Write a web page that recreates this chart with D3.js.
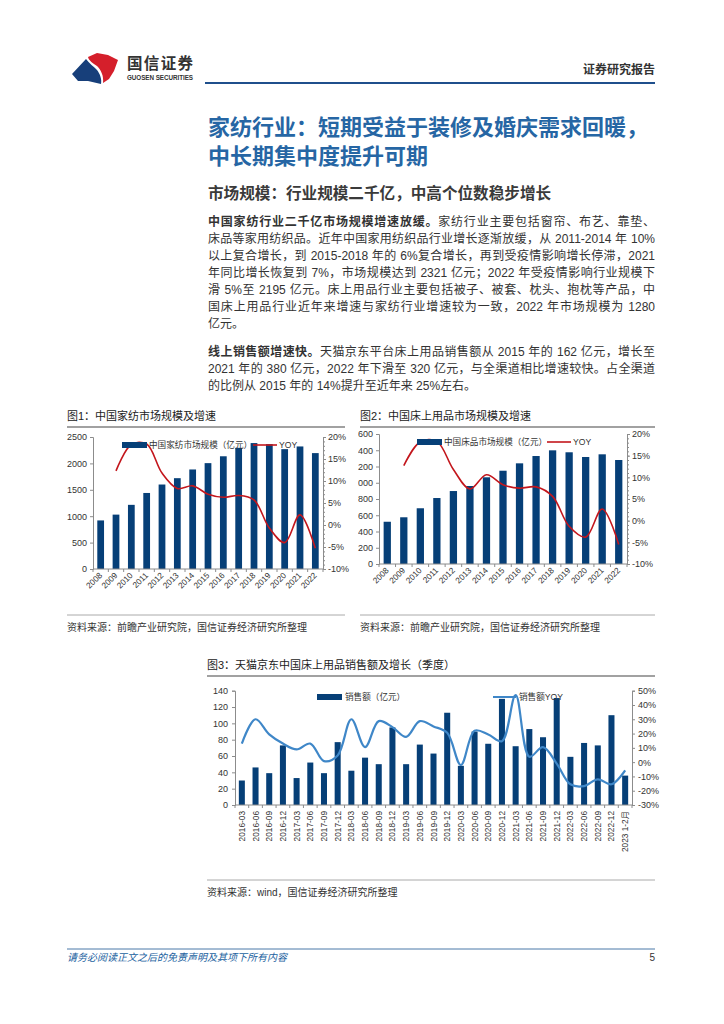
<!DOCTYPE html>
<html>
<head>
<meta charset="utf-8">
<script src="https://cdn.jsdelivr.net/npm/d3@7"></script>
<style>
  body { margin: 0; background: #fff; }
  #page { position: relative; width: 724px; height: 1024px; overflow: hidden;
          font-family: "Liberation Sans", "Noto Sans CJK SC", sans-serif; color: #333; }
  #page svg { position: absolute; left: 0; top: 0; }
  .title { position: absolute; left: 208px; top: 114px; font-size: 22px; line-height: 28.5px;
           font-weight: bold; color: #2666a4; white-space: nowrap; }
  .subtitle { position: absolute; left: 208px; top: 185px; font-size: 15.6px; line-height: 18px;
              font-weight: bold; color: #3a3a3a; white-space: nowrap; }
  .para { position: absolute; left: 208px; width: 447px; font-size: 12px; line-height: 17px; color: #333; }
  .para div { text-align: justify; text-align-last: justify; }
  .para div.last { text-align-last: left; }
</style>
</head>
<body>
<div id="page">
  <div class="title">家纺行业：短期受益于装修及婚庆需求回暖，<br>中长期集中度提升可期</div>
  <div class="subtitle">市场规模：行业规模二千亿，中高个位数稳步增长</div>
  <div class="para" style="top:213.5px">
    <div><b>中国家纺行业二千亿市场规模增速放缓。</b>家纺行业主要包括窗帘、布艺、靠垫、</div>
    <div>床品等家用纺织品。近年中国家用纺织品行业增长逐渐放缓，从 2011-2014 年 10%</div>
    <div>以上复合增长，到 2015-2018 年的 6%复合增长，再到受疫情影响增长停滞，2021</div>
    <div>年同比增长恢复到 7%，市场规模达到 2321 亿元；2022 年受疫情影响行业规模下</div>
    <div>滑 5%至 2195 亿元。床上用品行业主要包括被子、被套、枕头、抱枕等产品，中</div>
    <div>国床上用品行业近年来增速与家纺行业增速较为一致，2022 年市场规模为 1280</div>
    <div class="last">亿元。</div>
  </div>
  <div class="para" style="top:343.5px">
    <div><b>线上销售额增速快。</b>天猫京东平台床上用品销售额从 2015 年的 162 亿元，增长至</div>
    <div>2021 年的 380 亿元，2022 年下滑至 320 亿元，与全渠道相比增速较快。占全渠道</div>
    <div class="last">的比例从 2015 年的 14%提升至近年来 25%左右。</div>
  </div>
</div>
<script>
// 图1 / 图2 年度数据
const years = ['2008', '2009', '2010', '2011', '2012', '2013', '2014', '2015',
  '2016', '2017', '2018', '2019', '2020', '2021', '2022'];
const homeTextileSize = [920, 1030, 1215, 1440, 1600, 1720, 1885, 2005, 2135, 2295, 2385, 2365, 2270, 2321, 2195];
const homeTextileYoy = [null, 12.3, 18.3, 18.4, 11.8, 8.3, 8.9, 7.0, 6.3, 6.7, 5.7, -0.7, -4.0, 2.3, -5.3];
const beddingSize = [520, 575, 686, 812, 898, 960, 1067, 1148, 1239, 1329, 1399, 1375, 1317, 1350, 1280];
const beddingYoy = [null, 12.7, 18.2, 18.3, 11.8, 7.3, 10.6, 8.3, 7.5, 7.8, 5.6, -1.3, -3.8, 2.7, -5.5];

// 图3 季度数据
const quarters = ['2016-03', '2016-06', '2016-09', '2016-12', '2017-03', '2017-06', '2017-09', '2017-12',
  '2018-03', '2018-06', '2018-09', '2018-12', '2019-03', '2019-06', '2019-09', '2019-12',
  '2020-03', '2020-06', '2020-09', '2020-12', '2021-03', '2021-06', '2021-09', '2021-12',
  '2022-03', '2022-06', '2022-09', '2022-12', '2023 1-2月'];
const onlineSales = [30, 46, 39, 73, 33, 52, 39, 77, 42, 58, 50, 95, 50, 74, 63, 113,
  48, 90, 75, 130, 72, 93, 83, 131, 59, 76, 73, 110, 36];
const onlineYoy = [13, 30, 19.4, 13, 8.9, 13, 0.7, 4.7, 30, 10.5, 28.7, 24.5, 17.7, 28.7, 25, 20.5,
  -2, 22, 19.4, 14.7, 47, 3.8, 10.5, -1, -15.5, -16.8, -12, -15.5, -5.8];

const barColor = '#063f77';
const axisColor = '#8c8c8c';
const pctFmt = (d) => d + '%';
const numFmt = (d) => String(d);

const svg = d3.select('#page').append('svg')
  .attr('width', 724).attr('height', 1024);

drawHeader();
drawFooter();

drawAnnualChart({
  title: '图1：中国家纺市场规模及增速',
  source: '资料来源：前瞻产业研究院，国信证券经济研究所整理',
  frame: [67, 345], titleY: 416, sourceLineY: 615,
  left: 93, right: 323, top: 437, bottom: 569,
  yMax: 2500, yStep: 500,
  sizes: homeTextileSize, yoy: homeTextileYoy,
  legendName: '中国家纺市场规模（亿元）',
  legend: { rect: 122, y: 445, line: 253 },
});

drawAnnualChart({
  title: '图2：中国床上用品市场规模及增速',
  source: '资料来源：前瞻产业研究院，国信证券经济研究所整理',
  frame: [360, 655], titleY: 416, sourceLineY: 615, clipLeft: 358,
  left: 379, right: 627, top: 434, bottom: 564,
  yMax: 1600, yStep: 200,
  sizes: beddingSize, yoy: beddingYoy,
  legendName: '中国床品市场规模（亿元）',
  legend: { rect: 417, y: 442, line: 547 },
});

drawQuarterChart();

function drawHeader() {
  const g = svg.append('g');
  // logo
  g.append('path')
    .attr('d', 'M88,57 L97,53 L108,55 L118,60 L114,71 L109,79 L103,83 C104,76 101,70 97,66 C93,63 89,61 88,57 Z')
    .attr('fill', '#d51f2b');
  g.append('path')
    .attr('d', 'M72,74 L86,59 C89,63 94,67 97,70 C100,74 102,79 101,84 L88,81 L78,81 Z')
    .attr('fill', '#173f7a');
  g.append('text').attr('x', 127).attr('y', 69)
    .attr('font-size', 15.5).attr('font-weight', 'bold').attr('fill', '#333')
    .attr('textLength', 66).text('国信证券');
  g.append('text').attr('x', 127).attr('y', 79.5)
    .attr('font-size', 6.3).attr('font-weight', 'bold').attr('fill', '#333')
    .attr('textLength', 66).text('GUOSEN SECURITIES');
  g.append('text').attr('x', 655).attr('y', 73.5).attr('text-anchor', 'end')
    .attr('font-size', 12).attr('font-weight', 'bold').attr('fill', '#333')
    .text('证券研究报告');
  g.append('line').attr('x1', 205).attr('x2', 655).attr('y1', 83).attr('y2', 83)
    .attr('stroke', '#1f4f8c').attr('stroke-width', 2);
}

function drawFooter() {
  svg.append('line').attr('x1', 67).attr('x2', 655).attr('y1', 949).attr('y2', 949)
    .attr('stroke', '#4a78a8').attr('stroke-width', 1);
  svg.append('text').attr('x', 67).attr('y', 960.5)
    .attr('font-size', 10).attr('font-style', 'italic').attr('fill', '#2262a0')
    .text('请务必阅读正文之后的免责声明及其项下所有内容');
  svg.append('text').attr('x', 655).attr('y', 961).attr('text-anchor', 'end')
    .attr('font-size', 10).attr('fill', '#333').text('5');
}

function chartFrame(title, source, x0, x1, titleY, sourceLineY) {
  svg.append('text').attr('x', x0).attr('y', titleY + 4)
    .attr('font-size', 11).attr('fill', '#222').text(title);
  svg.append('line').attr('x1', x0).attr('x2', x1).attr('y1', titleY + 11).attr('y2', titleY + 11)
    .attr('stroke', '#444').attr('stroke-width', 1.2);
  svg.append('line').attr('x1', x0).attr('x2', x1).attr('y1', sourceLineY).attr('y2', sourceLineY)
    .attr('stroke', '#aaa').attr('stroke-width', 1);
  svg.append('text').attr('x', x0).attr('y', sourceLineY + 16)
    .attr('font-size', 10).attr('fill', '#333').text(source);
}

function styleAxis(g) {
  g.selectAll('.domain, line').attr('stroke', axisColor);
  g.selectAll('text').attr('fill', '#333').attr('font-size', 9)
    .attr('font-family', '"Liberation Sans", "Noto Sans CJK SC", sans-serif');
}

function drawAnnualChart(cfg) {
  chartFrame(cfg.title, cfg.source, cfg.frame[0], cfg.frame[1], cfg.titleY, cfg.sourceLineY);

  let g = svg.append('g');
  if (cfg.clipLeft) {
    const id = 'clip' + cfg.clipLeft;
    svg.append('clipPath').attr('id', id).append('rect')
      .attr('x', cfg.clipLeft).attr('y', cfg.top - 15).attr('width', 724).attr('height', 200);
    g.attr('clip-path', `url(#${id})`);
  }

  const x = d3.scaleBand().domain(years).range([cfg.left, cfg.right])
    .paddingInner(0.56).paddingOuter(0.28);
  const y = d3.scaleLinear().domain([0, cfg.yMax]).range([cfg.bottom, cfg.top]);
  const yR = d3.scaleLinear().domain([-10, 20]).range([cfg.bottom, cfg.top]);

  g.append('g').selectAll('rect')
    .data(cfg.sizes)
    .join('rect')
    .attr('x', (d, i) => x(years[i]))
    .attr('y', (d) => y(d))
    .attr('width', x.bandwidth())
    .attr('height', (d) => y(0) - y(d))
    .attr('fill', barColor);

  const line = d3.line()
    .defined((d) => d != null)
    .x((d, i) => x(years[i]) + x.bandwidth() / 2)
    .y((d) => yR(d))
    .curve(d3.curveCatmullRom);
  g.append('path').datum(cfg.yoy)
    .attr('d', line)
    .attr('fill', 'none').attr('stroke', '#c3161c').attr('stroke-width', 1.6);

  // left axis
  g.append('g').attr('transform', `translate(${cfg.left},0)`)
    .call(d3.axisLeft(y).tickValues(d3.range(0, cfg.yMax + 1, cfg.yStep))
      .tickSize(3).tickPadding(3).tickFormat(numFmt))
    .call(styleAxis);

  // right axis: minor + major
  g.append('g').attr('transform', `translate(${cfg.right},0)`)
    .call(d3.axisRight(yR).tickValues(d3.range(-10, 21, 1)).tickSize(2).tickFormat(''))
    .call(styleAxis);
  g.append('g').attr('transform', `translate(${cfg.right},0)`)
    .call(d3.axisRight(yR).tickValues(d3.range(-10, 21, 5)).tickSize(3).tickPadding(2).tickFormat(pctFmt))
    .call(styleAxis);

  // x axis with ticks between bars
  const step = x.step();
  const bounds = years.map((d) => x(d) - step * x.paddingInner() / 2).concat([cfg.right]);
  const xa = g.append('g');
  xa.append('line').attr('x1', cfg.left).attr('x2', cfg.right)
    .attr('y1', cfg.bottom).attr('y2', cfg.bottom).attr('stroke', axisColor);
  xa.selectAll('.tk').data(bounds).join('line').attr('class', 'tk')
    .attr('x1', (d) => d).attr('x2', (d) => d)
    .attr('y1', cfg.bottom).attr('y2', cfg.bottom + 3).attr('stroke', axisColor);
  xa.selectAll('text').data(years).join('text')
    .attr('transform', (d) => `translate(${x(d) + x.bandwidth() / 2 + 2},${cfg.bottom + 7}) rotate(-45)`)
    .attr('text-anchor', 'end').attr('font-size', 8.3).attr('fill', '#333')
    .text((d) => d);

  // legend
  const lg = g.append('g').attr('font-size', 8.6).attr('fill', '#333');
  lg.append('rect').attr('x', cfg.legend.rect).attr('y', cfg.legend.y - 3)
    .attr('width', 25).attr('height', 6).attr('fill', barColor);
  lg.append('text').attr('x', cfg.legend.rect + 27).attr('y', cfg.legend.y + 3).text(cfg.legendName);
  lg.append('line').attr('x1', cfg.legend.line).attr('x2', cfg.legend.line + 24)
    .attr('y1', cfg.legend.y).attr('y2', cfg.legend.y)
    .attr('stroke', '#c3161c').attr('stroke-width', 1.6);
  lg.append('text').attr('x', cfg.legend.line + 26).attr('y', cfg.legend.y + 3).text('YOY');
}

function drawQuarterChart() {
  chartFrame('图3：天猫京东中国床上用品销售额及增长（季度）', '资料来源：wind，国信证券经济研究所整理',
    207, 655, 665, 880);

  const left = 235, right = 632, top = 690.7, bottom = 805;
  const g = svg.append('g');
  const x = d3.scaleBand().domain(quarters).range([left, right])
    .paddingInner(0.56).paddingOuter(0.28);
  const y = d3.scaleLinear().domain([0, 140]).range([bottom, top]);
  const yR = d3.scaleLinear().domain([-30, 50]).range([bottom, top]);

  g.append('g').selectAll('rect')
    .data(onlineSales)
    .join('rect')
    .attr('x', (d, i) => x(quarters[i]))
    .attr('y', (d) => y(d))
    .attr('width', x.bandwidth())
    .attr('height', (d) => y(0) - y(d))
    .attr('fill', barColor);

  g.append('g').attr('transform', `translate(${left},0)`)
    .call(d3.axisLeft(y).tickValues(d3.range(0, 141, 20)).tickSize(3).tickPadding(4).tickFormat(numFmt))
    .call(styleAxis);
  g.append('g').attr('transform', `translate(${right},0)`)
    .call(d3.axisRight(yR).tickValues(d3.range(-30, 51, 10)).tickSize(3).tickPadding(3).tickFormat(pctFmt))
    .call(styleAxis);

  const step = x.step();
  const bounds = quarters.map((d) => x(d) - step * x.paddingInner() / 2).concat([right]);
  const xa = g.append('g');
  xa.append('line').attr('x1', left).attr('x2', right)
    .attr('y1', bottom).attr('y2', bottom).attr('stroke', axisColor);
  xa.selectAll('.tk').data(bounds).join('line').attr('class', 'tk')
    .attr('x1', (d) => d).attr('x2', (d) => d)
    .attr('y1', bottom).attr('y2', bottom + 3).attr('stroke', axisColor);
  xa.selectAll('text').data(quarters).join('text')
    .attr('transform', (d) => `translate(${x(d) + x.bandwidth() / 2 + 3},${bottom + 6}) rotate(-90)`)
    .attr('text-anchor', 'end').attr('font-size', 8.3).attr('fill', '#333')
    .text((d) => d);

  // legend (drawn before the line: the line passes over it)
  const lg = g.append('g').attr('font-size', 8.6).attr('fill', '#333');
  lg.append('rect').attr('x', 317).attr('y', 694).attr('width', 25).attr('height', 6).attr('fill', barColor);
  lg.append('text').attr('x', 345).attr('y', 700).text('销售额（亿元）');
  lg.append('line').attr('x1', 493).attr('x2', 516).attr('y1', 697).attr('y2', 697)
    .attr('stroke', '#3f87c8').attr('stroke-width', 2);
  lg.append('text').attr('x', 519).attr('y', 700).text('销售额YOY');

  const line = d3.line()
    .x((d, i) => x(quarters[i]) + x.bandwidth() / 2)
    .y((d) => yR(d))
    .curve(d3.curveCatmullRom);
  g.append('path').datum(onlineYoy)
    .attr('d', line)
    .attr('fill', 'none').attr('stroke', '#3f87c8').attr('stroke-width', 2.2);
}
</script>
</body>
</html>
